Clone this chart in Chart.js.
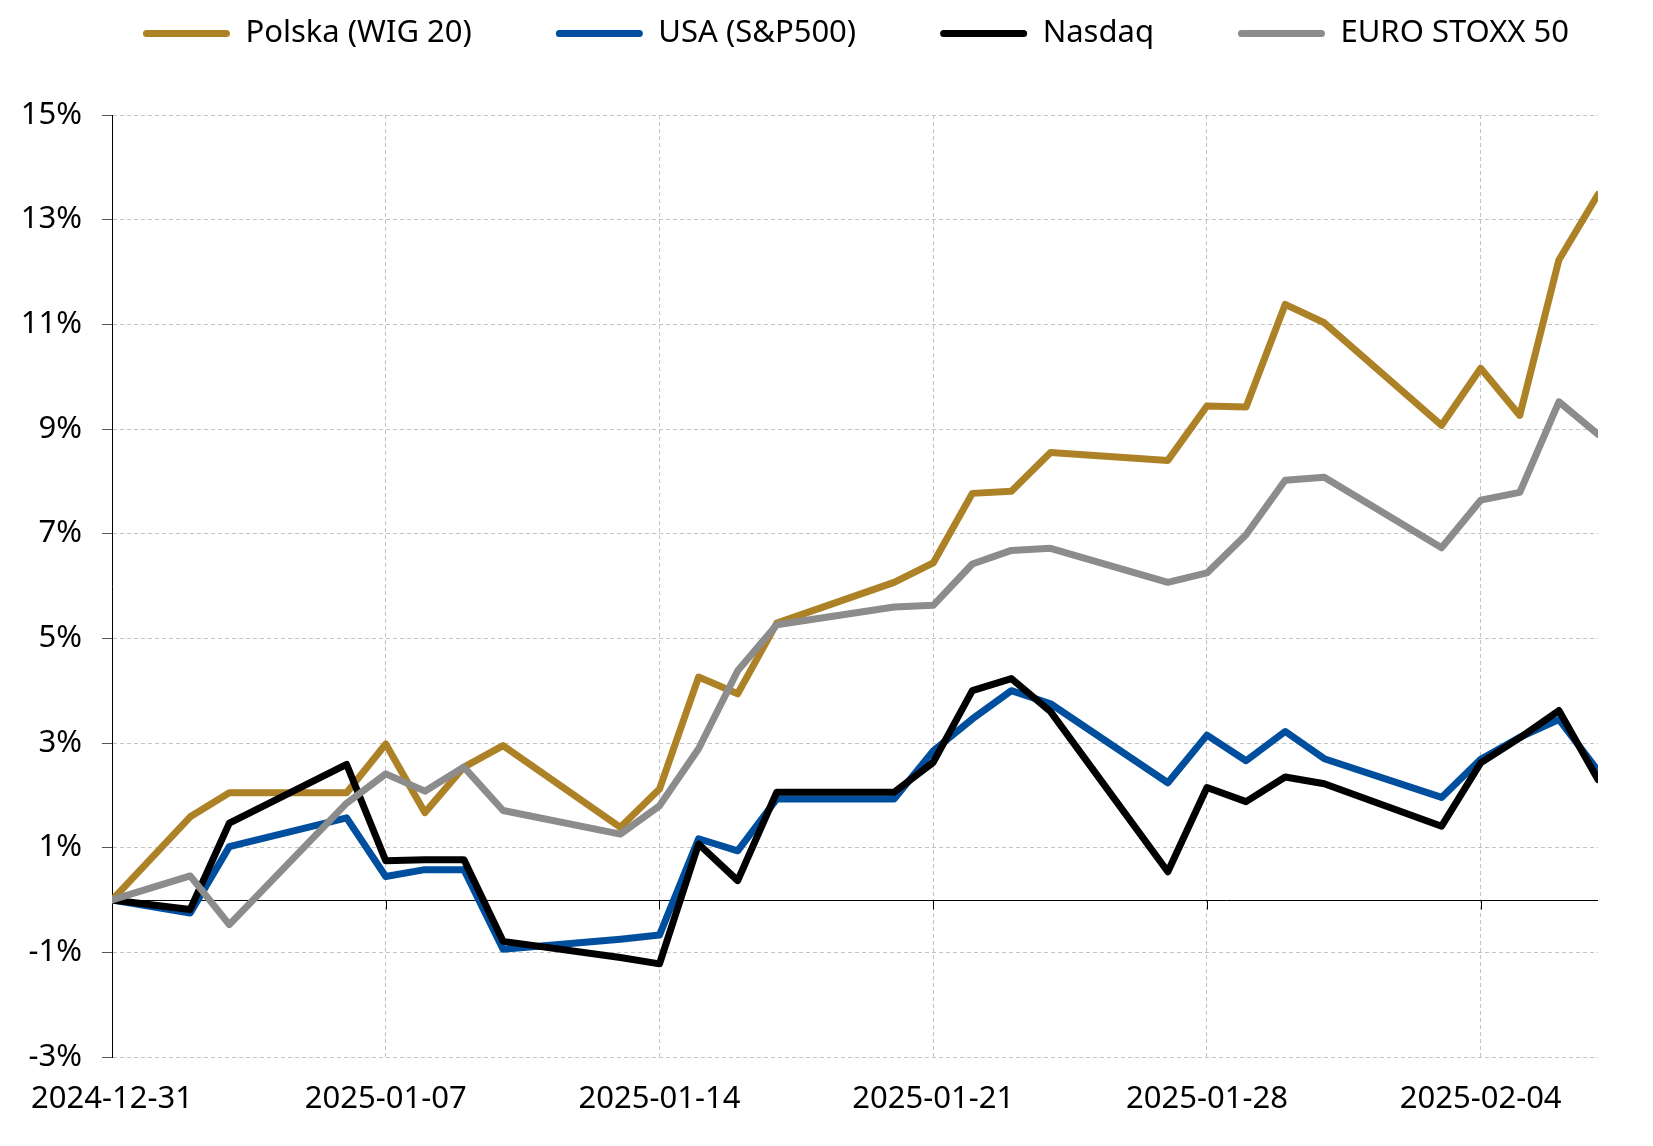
<!DOCTYPE html>
<html>
<head>
<meta charset="utf-8">
<script src="https://cdn.jsdelivr.net/npm/chart.js@4"></script>
<style>
html,body{margin:0;padding:0;background:#fff;}
#wrap{width:1653px;height:1146px;}
canvas{display:block;}
</style>
</head>
<body>
<div id="wrap"><canvas id="c" width="1653" height="1146" style="width:1653px;height:1146px"></canvas></div>
<script>
// ---- data ----
const dates = ['2024-12-31','2025-01-02','2025-01-03','2025-01-06','2025-01-07','2025-01-08','2025-01-09','2025-01-10',
  '2025-01-13','2025-01-14','2025-01-15','2025-01-16','2025-01-17','2025-01-20','2025-01-21','2025-01-22','2025-01-23','2025-01-24',
  '2025-01-27','2025-01-28','2025-01-29','2025-01-30','2025-01-31','2025-02-03','2025-02-04','2025-02-05','2025-02-06','2025-02-07'];
const tickLabels = ['2024-12-31','2025-01-07','2025-01-14','2025-01-21','2025-01-28','2025-02-04'];
const seriesNames = ['Polska (WIG 20)','USA (S&P500)','Nasdaq','EURO STOXX 50'];
const seriesColors = ['#AD8227','#004F9E','#000000','#8C8C8C'];
const wig20   = [0, 1.59, 2.05, 2.05, 2.98, 1.67, 2.54, 2.95, 1.39, 2.12, 4.26, 3.94, 5.29, 6.07, 6.44, 7.77, 7.81, 8.55, 8.40, 9.44, 9.42, 11.38, 11.03, 9.07, 10.16, 9.26, 12.23, 13.48];
const sp500   = [0, -0.25, 1.02, 1.57, 0.45, 0.58, 0.58, -0.94, -0.75, -0.67, 1.17, 0.94, 1.93, 1.93, 2.85, 3.46, 4.00, 3.75, 2.24, 3.15, 2.66, 3.22, 2.70, 1.96, 2.69, 3.11, 3.45, 2.47];
const nasdaq  = [0, -0.18, 1.47, 2.59, 0.75, 0.77, 0.77, -0.79, -1.10, -1.22, 1.07, 0.37, 2.06, 2.06, 2.63, 4.00, 4.23, 3.60, 0.54, 2.15, 1.88, 2.35, 2.22, 1.41, 2.62, 3.10, 3.62, 2.30];
const stoxx50 = [0, 0.46, -0.47, 1.85, 2.41, 2.08, 2.54, 1.71, 1.26, 1.80, 2.89, 4.38, 5.26, 5.60, 5.63, 6.42, 6.68, 6.72, 6.07, 6.25, 6.98, 8.02, 8.08, 6.73, 7.64, 7.79, 9.52, 8.90];
const yTicks = [-3, -1, 1, 3, 5, 7, 9, 11, 13, 15];
const yMin = -3, yMax = 15;

// ---- helpers ----
const DAY = 86400000;
const dayOf = s => Math.round((Date.parse(s) - Date.parse(dates[0])) / DAY);
const xDays = dates.map(dayOf);
const tickDays = tickLabels.map(dayOf);
const lastDay = xDays[xDays.length - 1];
const toPoints = arr => arr.map((v, i) => ({x: xDays[i], y: v}));
const allSeries = [wig20, sp500, nasdaq, stoxx50];

Chart.defaults.font.family = "'Noto Sans', 'Open Sans', sans-serif";
Chart.defaults.font.size = 31;
Chart.defaults.color = '#000';

const GRID = '#c4c4c4';

const zeroLine = {
  id: 'zeroLine',
  beforeDatasetsDraw(chart) {
    const {ctx, chartArea, scales} = chart;
    const y0 = Math.round(scales.y.getPixelForValue(0)) + 0.5;
    ctx.save();
    ctx.strokeStyle = '#000';
    ctx.lineWidth = 1;
    ctx.beginPath();
    ctx.moveTo(chartArea.left, y0);
    ctx.lineTo(chartArea.right, y0);
    scales.x.ticks.forEach(t => {
      const px = Math.round(scales.x.getPixelForValue(t.value)) + 0.5;
      ctx.moveTo(px, y0);
      ctx.lineTo(px, y0 + 9);
    });
    ctx.stroke();
    ctx.restore();
  }
};

const datasets = allSeries.map((arr, i) => ({
  label: seriesNames[i],
  data: toPoints(arr),
  borderColor: seriesColors[i],
  backgroundColor: seriesColors[i],
  borderWidth: 7,
  pointRadius: 0,
  pointHoverRadius: 0,
  tension: 0,
  fill: false,
  borderJoinStyle: 'round',
  borderCapStyle: 'round',
  order: allSeries.length - 1 - i,
  xAxisID: 'x',
  yAxisID: 'y'
}));

new Chart(document.getElementById('c'), {
  type: 'line',
  data: { datasets },
  plugins: [zeroLine],
  options: {
    responsive: false,
    animation: false,
    events: [],
    layout: { padding: { top: -66, left: 0, right: 0, bottom: 0 } },
    plugins: {
      tooltip: { enabled: false },
      legend: {
        position: 'top',
        align: 'end',
        reverse: true,
        labels: {
          boxWidth: 87,
          boxHeight: 7,
          useBorderRadius: true,
          borderRadius: 3.5,
          padding: 84,
          color: '#000',
          font: { size: 31 },
          generateLabels: chart => Chart.defaults.plugins.legend.labels.generateLabels(chart).map(it => Object.assign(it, {lineWidth: 0}))
        }
      }
    },
    scales: {
      x: {
        type: 'linear',
        position: 'bottom',
        min: 0,
        max: lastDay,
        afterBuildTicks: s => { s.ticks = tickDays.map(v => ({value: v})); },
        afterFit: s => { s.height = 89; },
        ticks: {
          autoSkip: false,
          maxRotation: 0,
          padding: 24,
          color: '#000',
          callback: v => { const k = tickDays.indexOf(v); return k >= 0 ? tickLabels[k] : ''; }
        },
        grid: { color: GRID, lineWidth: 1, drawTicks: false },
        border: { display: false, dash: [4, 3] }
      },
      y: {
        type: 'linear',
        position: 'left',
        min: yMin,
        max: yMax,
        afterBuildTicks: s => { s.ticks = yTicks.map(v => ({value: v})); },
        afterFit: s => { s.width = 112; },
        ticks: {
          padding: 20,
          color: '#000',
          callback: v => v + '%'
        },
        grid: { color: GRID, lineWidth: 1, drawTicks: true, tickLength: 10, tickColor: '#555' },
        border: { display: true, color: '#000', width: 1, dash: [4, 3] }
      },
      topSpace: {
        type: 'linear', position: 'top', display: true,
        grid: { display: false }, border: { display: false }, ticks: { display: false },
        afterFit: s => { s.height = 56; }
      },
      rightSpace: {
        type: 'linear', position: 'right', display: true,
        grid: { display: false }, border: { display: false }, ticks: { display: false },
        afterFit: s => { s.width = 55; }
      }
    }
  }
});
</script>
</body>
</html>
